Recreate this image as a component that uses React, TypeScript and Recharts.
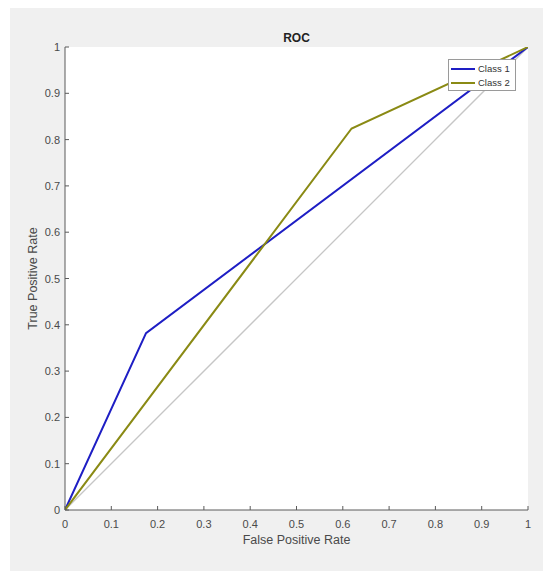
import React from "react";
import { LineChart, Line, XAxis, YAxis, CartesianGrid } from "recharts";

const class1Fpr = [0, 0.175, 1];
const class1Tpr = [0, 0.382, 1];
const class2Fpr = [0, 0.619, 1];
const class2Tpr = [0, 0.824, 1];
const diagFpr = [0, 1];
const diagTpr = [0, 1];
const tickValues = [0, 0.1, 0.2, 0.3, 0.4, 0.5, 0.6, 0.7, 0.8, 0.9, 1];
const seriesNames = ["Class 1", "Class 2"];
const seriesColors = ["#1e1ec4", "#8a8a14"];

const toPoints = (xs: number[], ys: number[]) => xs.map((x, i) => ({ x, y: ys[i] }));
const class1 = toPoints(class1Fpr, class1Tpr);
const class2 = toPoints(class2Fpr, class2Tpr);
const diag = toPoints(diagFpr, diagTpr);

const FONT = "'Liberation Sans', Arial, Helvetica, sans-serif";
const AXIS = "#5a5a5a";
const TEXT = "#4a4a4a";

const fmt = (v: number) => String(v);

const XTick = (props: any) => {
  const { x, y, payload } = props;
  return (
    <g>
      <line x1={x} x2={x} y1={y} y2={y - 4} stroke={AXIS} strokeWidth={1} />
      <text x={x} y={y + 18} textAnchor="middle" fontSize={11} fill={TEXT} fontFamily={FONT}>
        {fmt(payload.value)}
      </text>
    </g>
  );
};

const YTick = (props: any) => {
  const { x, y, payload } = props;
  return (
    <g>
      <line x1={x} x2={x + 4} y1={y} y2={y} stroke={AXIS} strokeWidth={1} />
      <text x={x - 5} y={y + 4} textAnchor="end" fontSize={11} fill={TEXT} fontFamily={FONT}>
        {fmt(payload.value)}
      </text>
    </g>
  );
};

const LegendBox = () => (
  <div
    style={{
      position: "absolute",
      left: 448,
      top: 59,
      border: "1px solid #9a9a9a",
      background: "#fff",
      paddingTop: 2,
      paddingLeft: 2,
      height: 28,
      width: 64,
      fontFamily: FONT,
      fontSize: 9.5,
      color: "#333",
      boxSizing: "content-box",
    }}
  >
    {seriesNames.map((n, i) => (
      <div key={n} style={{ display: "flex", alignItems: "center", height: 14 }}>
        <div style={{ width: 24, height: 2, background: seriesColors[i], marginRight: 3 }} />
        <span style={{ lineHeight: "14px", whiteSpace: "nowrap" }}>{n}</span>
      </div>
    ))}
  </div>
);

export default function App() {
  return (
    <div style={{ position: "absolute", left: 0, top: 0, width: 543, height: 571, background: "#fff" }}>
      <div style={{ position: "absolute", left: 10, top: 8, width: 533, height: 563, background: "#f0f0f0" }} />
      <div
        style={{
          position: "absolute",
          left: 65,
          top: 31,
          width: 463,
          textAlign: "center",
          fontFamily: FONT,
          fontWeight: "bold",
          fontSize: 12,
          lineHeight: "14px",
          color: "#222",
        }}
      >
        ROC
      </div>
      <div style={{ position: "absolute", left: 0, top: 0 }}>
        <LineChart width={543} height={571} margin={{ top: 47, right: 15, bottom: 0, left: 5 }}>
          <CartesianGrid horizontal={false} vertical={false} fill="#ffffff" />
          <XAxis
            type="number"
            dataKey="x"
            domain={[0, 1]}
            ticks={tickValues}
            allowDataOverflow
            height={61}
            tickSize={0}
            tickMargin={0}
            tickLine={false}
            axisLine={{ stroke: AXIS }}
            tick={<XTick />}
            interval={0}
            label={{
              value: "False Positive Rate",
              position: "insideTop",
              offset: 25,
              fill: TEXT,
              fontSize: 12.5,
              fontFamily: FONT,
            }}
          />
          <YAxis
            type="number"
            dataKey="y"
            domain={[0, 1]}
            ticks={tickValues}
            allowDataOverflow
            width={60}
            tickSize={0}
            tickMargin={0}
            tickLine={false}
            axisLine={{ stroke: AXIS }}
            tick={<YTick />}
            interval={0}
            label={{
              value: "True Positive Rate",
              angle: -90,
              position: "insideLeft",
              offset: 28,
              fill: TEXT,
              fontSize: 12.5,
              fontFamily: FONT,
              style: { textAnchor: "middle" },
            }}
          />
          <Line
            data={diag}
            dataKey="y"
            type="linear"
            stroke="#c6c6c6"
            strokeWidth={1.3}
            dot={false}
            isAnimationActive={false}
            legendType="none"
            name="diag"
          />
          <Line
            data={class1}
            dataKey="y"
            type="linear"
            stroke={seriesColors[0]}
            strokeWidth={2}
            dot={false}
            isAnimationActive={false}
            name={seriesNames[0]}
          />
          <Line
            data={class2}
            dataKey="y"
            type="linear"
            stroke={seriesColors[1]}
            strokeWidth={2}
            dot={false}
            isAnimationActive={false}
            name={seriesNames[1]}
          />
        </LineChart>
      </div>
      <LegendBox />
    </div>
  );
}
